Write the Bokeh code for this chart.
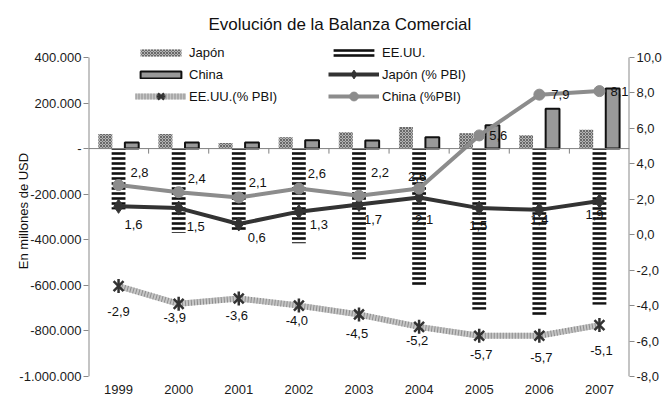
import math
from bokeh.plotting import figure
from bokeh.models import (Range1d, LinearAxis, FixedTicker, Span, Legend, LegendItem,
                          ColumnDataSource)
from bokeh.transform import dodge
from bokeh.embed import file_html
from bokeh.resources import INLINE

# ---------------- data ----------------
years = ["1999", "2000", "2001", "2002", "2003", "2004", "2005", "2006", "2007"]
japon_bal = [64000, 64000, 25000, 50000, 72000, 95000, 67000, 59000, 83000]
china_bal = [27000, 27000, 27000, 37000, 36000, 50000, 102000, 175000, 264000]
eeuu_bal = [-267000, -370000, -366000, -415000, -485000, -598000, -707000, -735000, -685000]
japon_pbi = [1.6, 1.5, 0.6, 1.3, 1.7, 2.1, 1.5, 1.4, 1.9]
china_pbi = [2.8, 2.4, 2.1, 2.6, 2.2, 2.6, 5.6, 7.9, 8.1]
eeuu_pbi = [-2.9, -3.9, -3.6, -4.0, -4.5, -5.2, -5.7, -5.7, -5.1]

left_ticks = [400000, 200000, 0, -200000, -400000, -600000, -800000, -1000000]
left_tick_labels = ["400.000", "200.000", "-", "-200.000", "-400.000", "-600.000",
                    "-800.000", "-1.000.000"]
right_ticks = [10, 8, 6, 4, 2, 0, -2, -4, -6, -8]
right_tick_labels = ["10,0", "8,0", "6,0", "4,0", "2,0", "0,0", "-2,0", "-4,0", "-6,0", "-8,0"]

# label offsets (screen px) – layout only
china_dx = [21, 18, 19, 18, 21, -2, 19, 21, 20]
china_dy = [-13, -14, -15, -15, -23, -12, 0, 0, 0]
japon_dx = [15, 17, 18, 20, 14, 5, -1, 0, -5]
japon_dy = [18, 18, 13, 13, 15, 22, 17, 10, 13]
eeuu_dx = [0, -4, -2, -2, -2, -2, 2, 2, 2]
eeuu_dy = [25, 14, 17, 15, 19, 14, 19, 22, 25]

def fmt(v):
    return f"{v:.1f}".replace(".", ",")

idx = list(range(len(years)))
src = ColumnDataSource(dict(
    x=idx, japon=japon_bal, china=china_bal, eeuu=eeuu_bal,
    jp=japon_pbi, cp=china_pbi, up=eeuu_pbi,
    jl=[fmt(v) for v in japon_pbi], cl=[fmt(v) for v in china_pbi], ul=[fmt(v) for v in eeuu_pbi],
    cdx=china_dx, cdy=china_dy, jdx=japon_dx, jdy=japon_dy, udx=eeuu_dx, udy=eeuu_dy,
))

FONT = "Liberation Sans"

# axis spans (frame is a bit taller than the tick span so the legend fits inside)
L_MIN, L_MAX = left_ticks[-1], left_ticks[0]
R_MIN, R_MAX = right_ticks[-1], right_ticks[0]
pad = 12 / 321.0
left_top = L_MAX + (L_MAX - L_MIN) * pad
right_top = R_MAX + (R_MAX - R_MIN) * pad

p = figure(width=664, height=396, output_backend="svg", toolbar_location=None,
           x_range=Range1d(-0.5, len(years) - 0.5), y_range=Range1d(L_MIN, left_top),
           min_border_left=88, min_border_right=32, min_border_top=44, min_border_bottom=19,
           title="Evolución de la Balanza Comercial")
p.title.align = "left"
p.title.offset = 120
p.title.standoff = 24
p.title.text_font = FONT
p.title.text_font_size = "17px"
p.title.text_font_style = "normal"
p.title.text_color = "#111111"
p.xgrid.visible = False
p.ygrid.visible = False
p.outline_line_color = None
p.background_fill_color = "white"
p.border_fill_color = "white"

p.extra_y_ranges = {"pbi": Range1d(R_MIN, right_top)}

# left axis
ya = p.yaxis[0]
ya.ticker = FixedTicker(ticks=left_ticks)
ya.major_label_overrides = {t: l for t, l in zip(left_ticks, left_tick_labels)}
ya.axis_label = "En millones de USD"
ya.axis_label_standoff = -15
ya.axis_label_text_font = FONT
ya.axis_label_text_font_size = "13px"
ya.axis_label_text_font_style = "normal"
ya.axis_label_text_color = "#111111"
# x axis
xa = p.xaxis[0]
xa.ticker = FixedTicker(ticks=idx)
xa.major_label_overrides = {i: y for i, y in zip(idx, years)}
xa.axis_line_color = None
xa.major_tick_line_color = None
xa.major_label_standoff = 2
# right axis
ra = LinearAxis(y_range_name="pbi", ticker=FixedTicker(ticks=right_ticks))
ra.major_label_overrides = {t: l for t, l in zip(right_ticks, right_tick_labels)}
p.add_layout(ra, "right")

for ax in (ya, ra):
    ax.axis_line_color = None
    ax.major_tick_line_color = "#8a8a8a"
    ax.major_tick_out = 5
    ax.major_tick_in = 0
    ax.major_label_standoff = 2
for ax in (ya, ra, xa):
    ax.minor_tick_line_color = None
    ax.major_label_text_font = FONT
    ax.major_label_text_font_size = "13px"
    ax.major_label_text_color = "#1a1a1a"

# axis lines drawn only over the tick span
p.segment(x0=[-0.5, len(years) - 0.5], x1=[-0.5, len(years) - 0.5],
          y0=[L_MIN, L_MIN], y1=[L_MAX, L_MAX], line_color="#8a8a8a", line_width=2)

# bars
jb = p.vbar(x=dodge("x", -0.22, range=p.x_range), top="japon", bottom=0, width=0.23, source=src,
            fill_color="#b4b4b4", line_color=None, hatch_pattern="diagonal_cross",
            hatch_color="#555555", hatch_scale=3, hatch_weight=0.8)
ub = p.vbar(x="x", top="eeuu", bottom=0, width=0.23, source=src,
            fill_color="white", line_color=None, hatch_pattern="horizontal_line",
            hatch_color="#111111", hatch_scale=5, hatch_weight=2.6)
cb = p.vbar(x=dodge("x", 0.22, range=p.x_range), top="china", bottom=0, width=0.23, source=src,
            fill_color="#999999", line_color="#111111", line_width=2)

# zero line and category ticks
p.add_layout(Span(location=0, dimension="width", line_color="#808080", line_width=1))
bx = [i + 0.5 for i in idx[:-1]]
p.segment(x0=bx, x1=bx, y0=[0] * len(bx), y1=[-22000] * len(bx), line_color="#808080", line_width=1)

# % PBI lines
ul1 = p.line("x", "up", source=src, y_range_name="pbi", line_color="#c6c6c6", line_width=6)
ul2 = p.line("x", "up", source=src, y_range_name="pbi", line_color="#8e8e8e", line_width=6, line_dash="1 2")
um1 = p.scatter("x", "up", source=src, y_range_name="pbi", marker="x", size=14,
                line_color="#333333", line_width=2.5)
um2 = p.scatter("x", "up", source=src, y_range_name="pbi", marker="dash", angle=math.pi / 2, size=14,
                line_color="#333333", line_width=2.5)

jl = p.line("x", "jp", source=src, y_range_name="pbi", line_color="#333333", line_width=4)
jm = p.scatter("x", "jp", source=src, y_range_name="pbi", marker="diamond", size=14,
               fill_color="#333333", line_color="#333333")
cl = p.line("x", "cp", source=src, y_range_name="pbi", line_color="#8c8c8c", line_width=4)
cm = p.scatter("x", "cp", source=src, y_range_name="pbi", marker="circle", size=11,
               fill_color="#8c8c8c", line_color="#8c8c8c")

# data labels
common = dict(source=src, y_range_name="pbi", text_font_size="13px", text_color="#111111",
              text_align="center", text_baseline="middle", text_font={"value": FONT})
p.text("x", "cp", text="cl", x_offset="cdx", y_offset="cdy", **common)
p.text("x", "jp", text="jl", x_offset="jdx", y_offset="jdy", **common)
p.text("x", "up", text="ul", x_offset="udx", y_offset="udy", **common)

# legends (location = bottom-left corner, px from frame bottom-left)
def mk_legend(items, loc, gh, lh, sp):
    return Legend(items=items, location=loc, glyph_width=51, glyph_height=gh, label_height=lh,
                  spacing=sp, padding=0, margin=0, label_standoff=3,
                  background_fill_alpha=0, border_line_color=None,
                  label_text_font=FONT, label_text_font_size="13px", label_text_color="#111111")

lg1 = mk_legend([LegendItem(label="Japón", renderers=[jb]),
                 LegendItem(label="China", renderers=[cb])], (47, 294), 9, 16, 6)
lg2 = mk_legend([LegendItem(label="EE.UU.", renderers=[ub])], (240, 316), 11, 16, 6)
lg3 = mk_legend([LegendItem(label="EE.UU.(% PBI)", renderers=[ul1, ul2, um1, um2])], (47, 269), 22, 16, 0)
lg4 = mk_legend([LegendItem(label="Japón (% PBI)", renderers=[jl, jm]),
                 LegendItem(label="China (%PBI)", renderers=[cl, cm])], (240, 269), 22, 16, 0)
for lg in (lg1, lg2, lg3, lg4):
    p.add_layout(lg)

open("out.html", "w").write(file_html(p, INLINE))
